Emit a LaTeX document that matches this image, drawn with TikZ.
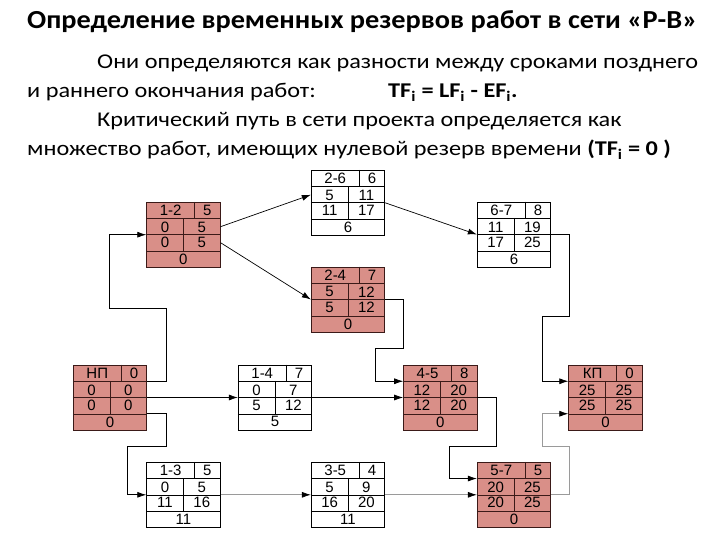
\documentclass[tikz,border=0pt]{standalone}
\usepackage{fontspec}
\setmainfont{Carlito}
\newfontfamily\cellfont{Liberation Sans}
\newfontfamily\headfont[FakeStretch=1.09]{Carlito}
\newfontfamily\bodyfont[FakeStretch=1.155]{Carlito}
\usetikzlibrary{arrows.meta,positioning,calc}
\definecolor{critfill}{HTML}{D98F88}
\definecolor{critline}{HTML}{3B1A18}
\definecolor{greyline}{HTML}{9A9A9A}
\tikzset{
  critbox/.style={draw=critline, fill=critfill},
  workbox/.style={draw=black, fill=white},
  taskbox/.style={rectangle, line width=0.8pt, minimum width=73.5pt, minimum height=65pt, inner sep=0pt},
  cell/.style={font=\cellfont\fontsize{15}{16}\selectfont, inner sep=0pt},
  txt/.style={font=\bodyfont\fontsize{21}{25}\selectfont, inner sep=0pt, anchor=base west},
  link/.style={-{Latex[length=9pt,width=6pt]}, line width=0.7pt},
  softlink/.style={-{Latex[length=9pt,width=6pt,color=black]}, line width=0.7pt, draw=greyline}
}
% #1 name, #2 centre, #3 style, #4 work, #5 duration, #6 ES, #7 EF, #8 LS, #9 LF
\newcommand\netbox[9]{%
  \node[taskbox,#3] (#1) at (#2) {};
  \draw[#3, fill=none, line width=0.6pt]
    ([yshift=-16.25pt]#1.north west) -- ([yshift=-16.25pt]#1.north east)
    ([xshift=48pt]#1.north west) -- ([xshift=48pt,yshift=-16.25pt]#1.north west)
    (#1.west) -- (#1.east)
    ([yshift=16.25pt]#1.south west) -- ([yshift=16.25pt]#1.south east)
    ([yshift=-16.25pt]#1.north) -- ([yshift=16.25pt]#1.south);
  \node[cell] (#1-code) at ([xshift=-12.75pt,yshift=24.4pt]#1.center) {#4};
  \node[cell] (#1-dur) at ([xshift=24pt,yshift=24.4pt]#1.center) {#5};
  \node[cell] (#1-es) at ([xshift=-18.4pt,yshift=7.6pt]#1.center) {#6};
  \node[cell] (#1-ef) at ([xshift=18.4pt,yshift=7.6pt]#1.center) {#7};
  \node[cell] (#1-ls) at ([xshift=-18.4pt,yshift=-7.6pt]#1.center) {#8};
  \node[cell] (#1-lf) at ([xshift=18.4pt,yshift=-7.6pt]#1.center) {#9};
  \node[cell] (#1-tf) at ([yshift=-24.4pt]#1.center) {\the\numexpr#9-#7\relax};
}

\begin{document}
\begin{tikzpicture}[x=1pt, y=-1pt]
  \useasboundingbox[fill=white] (0,0) rectangle (720,540);

  % heading and text
  \node[anchor=base west, inner sep=0pt, font=\headfont\bfseries\fontsize{26}{30}\selectfont] (title) at (27,29)
    {Определение временных резервов работ в сети «Р-В»};
  \node[txt] (line1) at (97,69) {Они определяются как разности между сроками позднего};
  \node[txt] (line2) at (27,98) {и раннего окончания работ:};
  \node[txt] (formula) at (388,98) {\bfseries TF\textsubscript{i} = LF\textsubscript{i} - EF\textsubscript{i}.};
  \node[txt] (line3) at (97,127) {Критический путь в сети проекта определяется как};
  \node[txt] (line4) at (27,156) {множество работ, имеющих нулевой резерв времени \textbf{(TF\textsubscript{i} = 0 )}};

  % network
  \netbox{np}{110,397.5}{critbox}{НП}{0}{0}{0}{0}{0}
  \netbox{n12}{183.4,234.7}{critbox}{1-2}{5}{0}{5}{0}{5}
  \netbox{n26}{348,202.8}{workbox}{2-6}{6}{5}{11}{11}{17}
  \netbox{n24}{348,299.5}{critbox}{2-4}{7}{5}{12}{5}{12}
  \netbox{n67}{514,234.5}{workbox}{6-7}{8}{11}{19}{17}{25}
  \netbox{n14}{275,397.5}{workbox}{1-4}{7}{0}{7}{5}{12}
  \netbox{n45}{440.3,397.5}{critbox}{4-5}{8}{12}{20}{12}{20}
  \netbox{nkp}{605.5,397.5}{critbox}{КП}{0}{25}{25}{25}{25}
  \netbox{n13}{183.4,494.8}{workbox}{1-3}{5}{0}{5}{11}{16}
  \netbox{n35}{348,494.8}{workbox}{3-5}{4}{5}{9}{16}{20}
  \netbox{n57}{514,494.8}{critbox}{5-7}{5}{20}{25}{20}{25}

  \draw[link] ([yshift=16.25pt]np.east) -| ++(19.5,-73) -| ([xshift=-36.5pt]n12.west) -- (n12.west);
  \draw[link] ([yshift=8pt]n12.east) -- ([yshift=8pt]n26.west);
  \draw[link] ([yshift=-8pt]n12.east) -- (n24.west);
  \draw[link] (n26.east) -- (n67.west);
  \draw[link] (n24.east) -| ++(18.5,48.5) -| ([xshift=-27.5pt,yshift=16.25pt]n45.west) -- ([yshift=16.25pt]n45.west);
  \draw[link] (n67.east) -| ++(18.5,82) -| ([xshift=-26.5pt,yshift=16.25pt]nkp.west) -- ([yshift=16.25pt]nkp.west);
  \draw[link] (np.east) -- (n14.west);
  \draw[link] (n14.east) -- (n45.west);
  \draw[link] ([yshift=-16.25pt]np.east) -| ++(19.5,33) -| ([xshift=-18.5pt]n13.west) -- (n13.west);
  \draw[softlink] (n13.east) -- (n35.west);
  \draw[softlink] (n35.east) -- (n57.west);
  \draw[link] (n45.east) -| ++(18.5,49.2) -| ([xshift=-28pt,yshift=16.25pt]n57.west) -- ([yshift=16.25pt]n57.west);
  \draw[softlink] (n57.east) -| ++(18.5,-48) -| ([xshift=-26.5pt,yshift=-16.25pt]nkp.west) -- ([yshift=-16.25pt]nkp.west);
\end{tikzpicture}
\end{document}
